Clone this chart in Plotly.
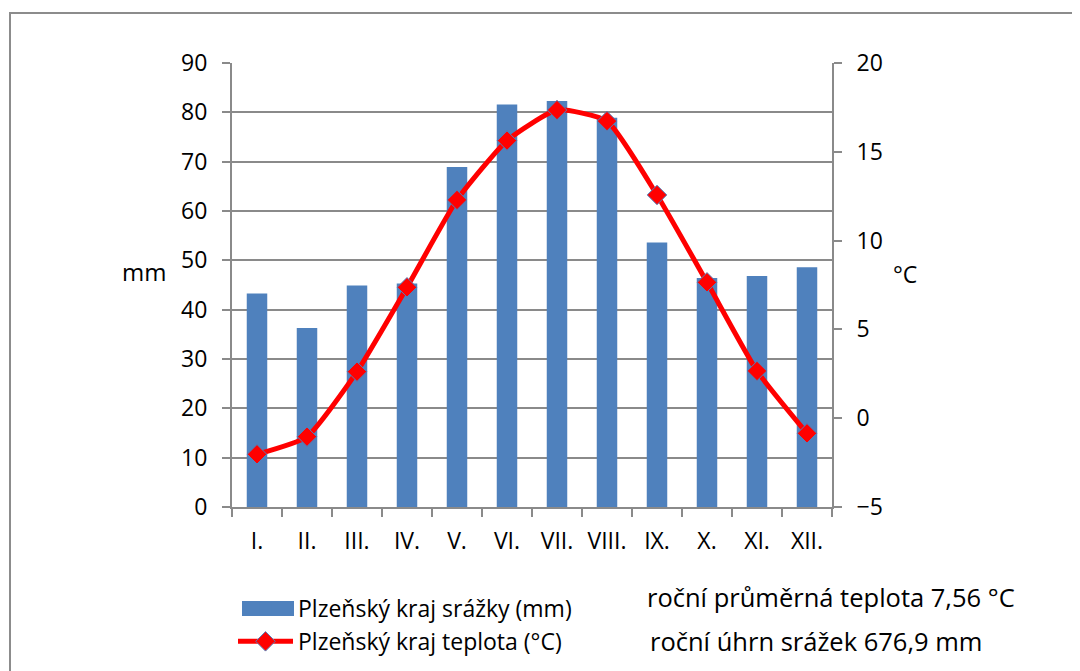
import plotly.graph_objects as go

months = ["I.", "II.", "III.", "IV.", "V.", "VI.", "VII.", "VIII.", "IX.", "X.", "XI.", "XII."]
precip_mm = [43.3, 36.3, 44.9, 45.3, 68.9, 81.6, 82.3, 78.9, 53.6, 46.4, 46.8, 48.6]
temp_c = [-2.03, -1.04, 2.62, 7.37, 12.29, 15.63, 17.35, 16.73, 12.57, 7.65, 2.66, -0.85]
name_precip = "Plzeňský kraj srážky (mm)"
name_temp = "Plzeňský kraj teplota (°C)"
note_temp = "roční průměrná teplota 7,56 °C"
note_precip = "roční úhrn srážek 676,9 mm"

FONT = "Open Sans"
GRID = "#8a8a8a"
BAR = "#4F81BD"
FS = 23
FS_NOTE = 25.5

# page offset of the plot div (browser body margin)
OFF = 8
# target plot area in page pixels
L, R, T, B = 232, 832, 63, 507
W, H = 1080, 671

def px(xp):
    return (xp - L) / (R - L)

def py(yp):
    return (B - yp) / (B - T)

fig = go.Figure()
fig.add_trace(go.Bar(
    x=months, y=precip_mm, name=name_precip,
    marker=dict(color=BAR, line=dict(width=0)),
    yaxis="y",
))
fig.add_trace(go.Scatter(
    x=months, y=temp_c, name=name_temp, yaxis="y2",
    mode="lines+markers",
    line=dict(color="#FF0000", width=5, shape="spline", smoothing=0.5),
    marker=dict(symbol="diamond", size=15, color="#FF0000",
                line=dict(color=BAR, width=1)),
))

fig.update_layout(
    width=W, height=H,
    margin=dict(l=L - OFF, r=W + OFF - R, t=T - OFF, b=H + OFF - B, pad=0,
                autoexpand=False),
    paper_bgcolor="white", plot_bgcolor="white",
    font=dict(family=FONT, size=FS, color="black"),
    bargap=0.59,
    showlegend=True,
    legend=dict(
        x=px(233), y=py(587), xanchor="left", yanchor="top",
        font=dict(family=FONT, size=FS, color="black"),
        itemwidth=55, tracegroupgap=0, bgcolor="rgba(0,0,0,0)",
        traceorder="normal",
    ),
    xaxis=dict(
        type="category", range=[-0.5, len(months) - 0.5],
        showline=True, linecolor=GRID, linewidth=2,
        ticks="outside", tickson="boundaries", ticklen=8, tickwidth=2, tickcolor=GRID,
        showgrid=False, tickfont=dict(size=FS), tickangle=0, fixedrange=True,
        ticklabelstandoff=12, automargin=False,
    ),
    yaxis=dict(
        range=[0, 90], dtick=10, showline=True, linecolor=GRID, linewidth=2,
        ticks="outside", ticklen=8, tickwidth=2, tickcolor=GRID,
        showgrid=True, gridcolor=GRID, gridwidth=2, zeroline=False,
        tickfont=dict(size=FS), ticklabelstandoff=10, automargin=False,
    ),
    yaxis2=dict(
        range=[-5, 20], dtick=5, overlaying="y", side="right",
        showline=True, linecolor=GRID, linewidth=2,
        ticks="outside", ticklen=8, tickwidth=2, tickcolor=GRID,
        showgrid=False, zeroline=False, tickfont=dict(size=FS),
        ticklabelstandoff=10, automargin=False,
    ),
    shapes=[
        dict(type="rect", xref="paper", yref="paper",
             x0=px(10), x1=px(1200), y0=py(800), y1=py(13),
             line=dict(color="#8c8c8c", width=2), fillcolor="rgba(0,0,0,0)", layer="below"),
        # wide legend swatch for the bar series (as in the reference)
        dict(type="rect", xref="paper", yref="paper",
             x0=px(242), x1=px(294), y0=py(616), y1=py(601),
             line=dict(width=0), fillcolor=BAR, layer="above"),
    ],
    annotations=[
        dict(text="mm", xref="paper", yref="paper", x=px(144), y=py(271),
             showarrow=False, font=dict(size=24), xanchor="center", yanchor="middle"),
        dict(text="°C", xref="paper", yref="paper", x=px(905), y=py(274),
             showarrow=False, font=dict(size=FS), xanchor="center", yanchor="middle"),
        dict(text=note_temp, xref="paper", yref="paper", x=px(645), y=py(597),
             showarrow=False, font=dict(size=FS_NOTE), xanchor="left", yanchor="middle"),
        dict(text=note_precip, xref="paper", yref="paper", x=px(648), y=py(641),
             showarrow=False, font=dict(size=FS_NOTE), xanchor="left", yanchor="middle"),
    ],
)

fig.write_html("out.html")
